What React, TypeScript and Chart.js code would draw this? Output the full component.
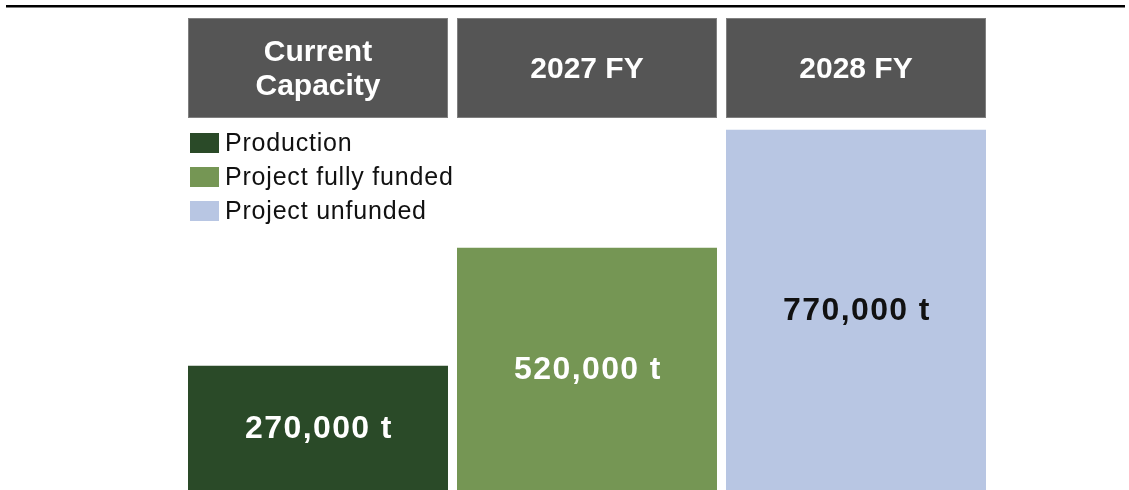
import React, { useEffect, useRef } from "react";
import { Chart, registerables } from "chart.js";

Chart.register(...registerables);

// ---- data ----
const categories = ["Current Capacity", "2027 FY", "2028 FY"];
const headerLines = [["Current", "Capacity"], ["2027 FY"], ["2028 FY"]];
const seriesNames = ["Production", "Project fully funded", "Project unfunded"];
const production = [270000, null, null];
const fullyFunded = [null, 520000, null];
const unfunded = [null, null, 770000];
const seriesValues = [production, fullyFunded, unfunded];
const seriesColors = ["#2a4a28", "#759654", "#b8c6e3"];
const labelColors = ["#ffffff", "#ffffff", "#111111"];
const unit = "t";

const FONT = '"Liberation Sans", Arial, Helvetica, sans-serif';

const topRulePlugin = {
  id: "topRule",
  beforeDraw(chart: any) {
    const ctx = chart.ctx;
    ctx.save();
    ctx.fillStyle = "#000000";
    ctx.fillRect(6, 5, 1119, 2.5);
    ctx.restore();
  },
};

const headerPlugin = {
  id: "headers",
  afterDatasetsDraw(chart: any) {
    const ctx = chart.ctx;
    const top = chart.chartArea.top;
    const h = 100;
    ctx.save();
    categories.forEach((_, i) => {
      const el = chart.getDatasetMeta(i).data[i];
      if (!el) return;
      const w = el.width;
      const x = el.x;
      ctx.fillStyle = "#555555";
      ctx.fillRect(x - w / 2, top, w, h);
      ctx.strokeStyle = "rgba(255,255,255,0.25)";
      ctx.lineWidth = 1;
      ctx.strokeRect(x - w / 2 + 0.5, top + 0.5, w - 1, h - 1);
      ctx.fillStyle = "#ffffff";
      ctx.font = `bold 30px ${FONT}`;
      ctx.textAlign = "center";
      ctx.textBaseline = "middle";
      const lines = headerLines[i];
      const lh = 34;
      const cy = top + h / 2 + 1.5;
      lines.forEach((ln, k) => {
        const y = cy + (k - (lines.length - 1) / 2) * lh;
        ctx.fillText(ln, x, y);
      });
    });
    ctx.restore();
  },
};

const valueLabelPlugin = {
  id: "valueLabels",
  afterDatasetsDraw(chart: any) {
    const ctx = chart.ctx;
    ctx.save();
    seriesValues.forEach((vals, d) => {
      const meta = chart.getDatasetMeta(d);
      vals.forEach((v, i) => {
        if (v == null) return;
        const el = meta.data[i];
        const cy = (el.y + el.base) / 2;
        ctx.fillStyle = labelColors[d];
        ctx.font = `bold 32px ${FONT}`;
        (ctx as any).letterSpacing = "1.4px";
        ctx.textAlign = "center";
        ctx.textBaseline = "middle";
        ctx.fillText(`${v.toLocaleString("en-US")} ${unit}`, el.x + 1, cy);
      });
    });
    ctx.restore();
  },
};

const legendPlugin = {
  id: "customLegend",
  afterDatasetsDraw(chart: any) {
    const ctx = chart.ctx;
    const left = chart.chartArea.left + 6.5;
    const firstY = 143;
    const step = 34;
    ctx.save();
    seriesNames.forEach((name, i) => {
      const cy = firstY + i * step;
      ctx.fillStyle = seriesColors[i];
      ctx.fillRect(left, cy - 10, 29, 20);
      ctx.fillStyle = "#111111";
      ctx.font = `25px ${FONT}`;
      (ctx as any).letterSpacing = "0.8px";
      ctx.textAlign = "left";
      ctx.textBaseline = "middle";
      ctx.fillText(name, left + 35, cy + 1);
    });
    ctx.restore();
  },
};

export default function App() {
  const canvasRef = useRef<HTMLCanvasElement | null>(null);

  useEffect(() => {
    if (!canvasRef.current) return;
    const chart = new Chart(canvasRef.current, {
      type: "bar",
      data: {
        labels: categories,
        datasets: seriesNames.map((name, i) => ({
          label: name,
          data: seriesValues[i] as any,
          backgroundColor: seriesColors[i],
          borderWidth: 0,
          barPercentage: 0.9665,
          categoryPercentage: 1,
        })),
      },
      options: {
        animation: false,
        responsive: false,
        devicePixelRatio: 1,
        layout: { padding: { left: 183.5, right: 138.5, top: 18, bottom: 0 } },
        scales: {
          x: { stacked: true, display: false },
          y: { stacked: true, display: false, min: 7000, max: 1007000 },
        },
        plugins: {
          legend: { display: false },
          tooltip: { enabled: false },
          title: { display: false },
        },
      },
      plugins: [topRulePlugin, headerPlugin, valueLabelPlugin, legendPlugin],
    });
    return () => chart.destroy();
  }, []);

  return (
    <div
      style={{
        position: "fixed",
        left: 0,
        top: 0,
        width: 1129,
        height: 490,
        background: "#ffffff",
      }}
    >
      <canvas ref={canvasRef} width={1129} height={490} />
    </div>
  );
}
